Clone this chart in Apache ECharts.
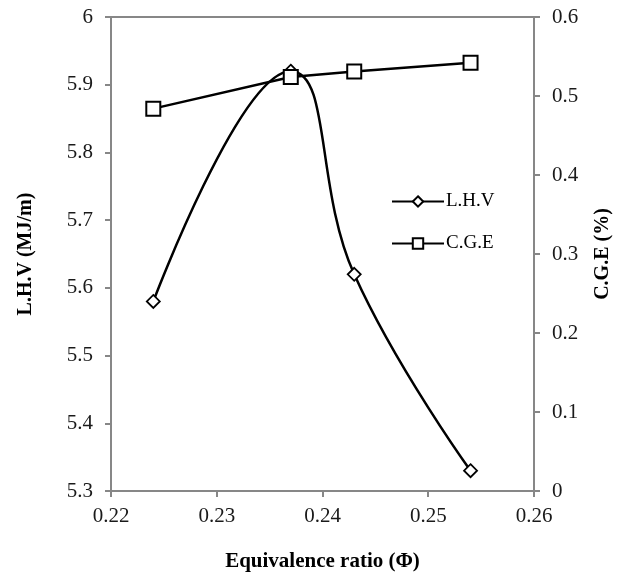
<!DOCTYPE html>
<html>
<head>
<meta charset="utf-8">
<script src="https://cdn.jsdelivr.net/npm/echarts@6/dist/echarts.min.js"></script>
<style>
  html, body { margin: 0; padding: 0; background: #fff; }
  #chart { width: 627px; height: 573px; }
</style>
</head>
<body>
<div id="chart"></div>
<script>
// equivalence ratio values shared by both series
const phi = [0.224, 0.237, 0.243, 0.254]
const lhv = [5.58, 5.92, 5.62, 5.33]
const cge = [0.484, 0.524, 0.531, 0.542]

const xTicks = [0.22, 0.23, 0.24, 0.25, 0.26]
const lhvTicks = [5.3, 6]
const cgeTicks = [0, 0.6]

const axisGray = '#878787'
const font = 'Liberation Serif'

const toPairs = (xs, ys) => xs.map((x, i) => [x, ys[i]])

const chart = echarts.init(document.getElementById('chart'))

const axisCommon = {
  axisLine: { show: true, lineStyle: { color: axisGray, width: 2 } },
  axisTick: { show: true, length: 6, lineStyle: { color: axisGray, width: 2 } },
  splitLine: { show: false },
  axisLabel: { color: '#1a1a1a', fontFamily: font, fontSize: 21, margin: 18 },
  nameTextStyle: { color: '#000', fontFamily: font, fontWeight: 'bold', fontSize: 20 },
}

chart.setOption({
  animation: false,
  grid: {
    left: 111, right: 93, top: 17, bottom: 82,
    outerBoundsMode: 'none',
    show: true, borderColor: axisGray, borderWidth: 2,
  },
  legend: {
    orient: 'vertical',
    left: 386, top: 187,
    itemWidth: 52, itemHeight: 13, itemGap: 23,
    textStyle: { color: '#000', fontFamily: font, fontSize: 19, padding: [0, 0, 0, -3] },
    data: ['L.H.V', 'C.G.E'],
  },
  xAxis: {
    ...axisCommon,
    type: 'value',
    min: xTicks[0], max: xTicks[xTicks.length - 1], interval: 0.01,
    name: 'Equivalence ratio (Φ)',
    nameLocation: 'middle', nameGap: 60,
    nameTextStyle: { ...axisCommon.nameTextStyle, fontSize: 21 },
    axisLabel: { ...axisCommon.axisLabel, margin: 15, formatter: v => v.toFixed(2) },
  },
  yAxis: [
    {
      ...axisCommon,
      type: 'value', position: 'left',
      min: lhvTicks[0], max: lhvTicks[1], interval: 0.1,
      name: 'L.H.V (MJ/m)', nameLocation: 'middle', nameGap: 75, nameRotate: 90,
      axisLabel: { ...axisCommon.axisLabel, formatter: v => String(+v.toFixed(1)) },
    },
    {
      ...axisCommon,
      type: 'value', position: 'right',
      min: cgeTicks[0], max: cgeTicks[1], interval: 0.1,
      name: 'C.G.E (%)', nameLocation: 'middle', nameGap: 59, nameRotate: 90,
      axisLabel: { ...axisCommon.axisLabel, formatter: v => String(+v.toFixed(1)) },
    },
  ],
  series: [
    {
      name: 'L.H.V', type: 'line', yAxisIndex: 0,
      data: toPairs(phi, lhv),
      smooth: 0.45,
      symbol: 'diamond', symbolSize: 13,
      lineStyle: { color: '#000', width: 2.5 },
      itemStyle: { color: '#fff', borderColor: '#000', borderWidth: 1.8 },
    },
    {
      name: 'C.G.E', type: 'line', yAxisIndex: 1,
      data: toPairs(phi, cge),
      symbol: 'rect', symbolSize: 14,
      lineStyle: { color: '#000', width: 2.5 },
      itemStyle: { color: '#fff', borderColor: '#000', borderWidth: 2 },
      z: 3,
    },
  ],
})
</script>
</body>
</html>
